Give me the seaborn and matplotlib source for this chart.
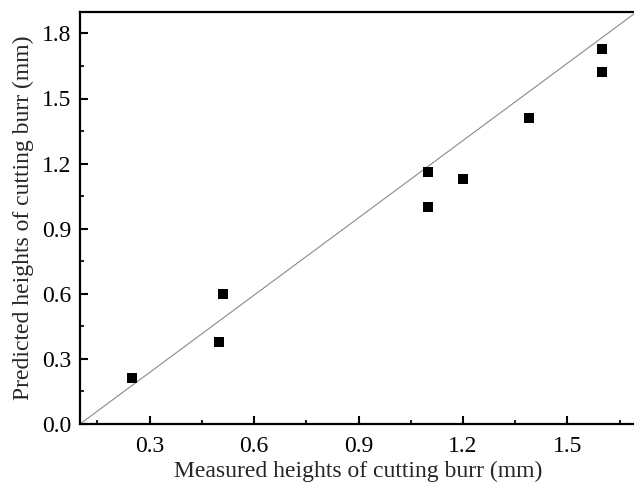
import matplotlib
matplotlib.use("Agg")
import matplotlib.pyplot as plt
import seaborn as sns
import pandas as pd
from matplotlib.ticker import MultipleLocator

measured = [0.25, 0.50, 0.51, 1.10, 1.10, 1.20, 1.39, 1.60, 1.60]
predicted = [0.21, 0.38, 0.60, 1.16, 1.00, 1.13, 1.41, 1.73, 1.62]
x_label = "Measured heights of cutting burr (mm)"
y_label = "Predicted heights of cutting burr (mm)"
x_lim = (0.1, 1.7)
y_lim = (0.0, 1.9)

df = pd.DataFrame({"measured": measured, "predicted": predicted})

sns.set_theme(style="ticks")
plt.rcParams["font.family"] = ["Liberation Serif", "DejaVu Serif"]

fig = plt.figure(figsize=(6.34, 4.96), dpi=100)
ax = fig.add_axes([80 / 634, (496 - 424) / 496, 557 / 634, (424 - 11.7) / 496])

ax.plot([x_lim[0], x_lim[1]], [y_lim[0], y_lim[1]], color="#8a8a8a", lw=0.8, zorder=1)
sns.scatterplot(data=df, x="measured", y="predicted", marker="s", s=42,
                color="black", edgecolor="black", linewidth=0, ax=ax, zorder=3)

ax.set_xlim(*x_lim)
ax.set_ylim(*y_lim)
ax.xaxis.set_minor_locator(MultipleLocator(0.15))
ax.yaxis.set_minor_locator(MultipleLocator(0.15))
ax.set_xticks([0.3, 0.6, 0.9, 1.2, 1.5])
ax.set_xticklabels(["0.3", "0.6", "0.9", "1.2", "1.5"])
ax.set_yticks([0.0, 0.3, 0.6, 0.9, 1.2, 1.5, 1.8])
ax.set_yticklabels(["0.0", "0.3", "0.6", "0.9", "1.2", "1.5", "1.8"])

ax.tick_params(which="major", direction="in", length=6, width=1.5, labelsize=17,
               colors="black")
ax.tick_params(axis="x", which="major", pad=9)
ax.tick_params(axis="y", which="major", pad=6)
ax.tick_params(which="minor", direction="in", length=3, width=1.5)
for sp in ax.spines.values():
    sp.set_linewidth(1.6)
    sp.set_color("black")

ax.set_xlabel(x_label, fontsize=17, labelpad=2.5)
ax.set_ylabel(y_label, fontsize=17, labelpad=6)

fig.savefig("out.png", dpi=100)
